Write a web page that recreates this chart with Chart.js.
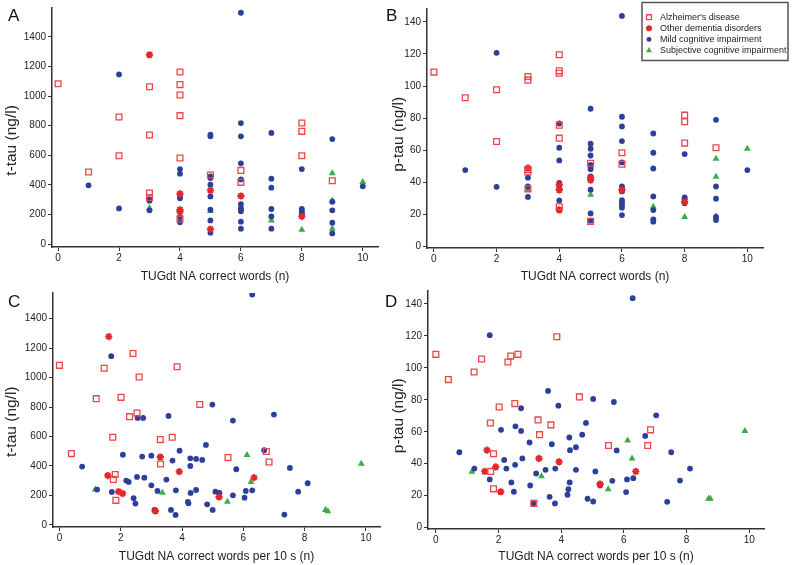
<!DOCTYPE html>
<html>
<head>
<meta charset="utf-8">
<script src="https://cdn.jsdelivr.net/npm/chart.js@4.4.0/dist/chart.umd.min.js"></script>
<style>
body { margin: 0; background: #fff; }
#wrap { position: relative; width: 793px; height: 565px; overflow: hidden; }
canvas { position: absolute; }
.lbl { position: absolute; font: 17px 'Liberation Sans', Arial, sans-serif; line-height: 1; color: #111; }
</style>
</head>
<body>
<div id="wrap">
  <canvas id="panelA" width="387" height="285" style="left:0;top:0"></canvas>
  <canvas id="panelB" width="406" height="285" style="left:387px;top:0"></canvas>
  <canvas id="panelC" width="387" height="282" style="left:0;top:283px"></canvas>
  <canvas id="panelD" width="406" height="282" style="left:387px;top:283px"></canvas>
  <div class="lbl" style="left:8px;top:7px">A</div>
  <div class="lbl" style="left:386px;top:7px">B</div>
  <div class="lbl" style="left:8px;top:293px">C</div>
  <div class="lbl" style="left:385px;top:293px">D</div>
</div>
<script>
const FONT = "'Liberation Sans', Arial, sans-serif";

const groups = ["Alzheimer's disease", 'Other dementia disorders', 'Mild cognitive impairment', 'Subjective cognitive impairment'];
const xTicks = [0, 2, 4, 6, 8, 10];
const tTauTicks = [0, 200, 400, 600, 800, 1000, 1200, 1400];
const pTauTicks = [0, 20, 40, 60, 80, 100, 120, 140];

// A: correct words (n) vs t-tau
const wordsTtauAD = [[0,1084],[1,487],[2,859],[2,597],[3,1064],[3,737],[3,345],[3,315],[4,1163],[4,1078],[4,1008],[4,868],[4,582],[4,169],[5,467],[6,498],[6,417],[8,818],[8,762],[8,597],[9,428]];
const wordsTtauOther = [[3,1280],[4,340],[4,232],[4,219],[5,363],[5,101],[6,325],[8,187]];
const wordsTtauMCI = [[1,397],[2,1147],[2,241],[3,302],[3,293],[3,228],[4,507],[4,476],[4,327],[4,309],[4,183],[4,147],
  [5,739],[5,728],[5,458],[5,446],[5,401],[5,322],[5,232],[5,160],[5,77],
  [6,1564],[6,818],[6,728],[6,546],[6,437],[6,270],[6,243],[6,232],[6,221],[6,151],[6,104],
  [7,751],[7,442],[7,381],[7,237],[7,187],[7,104],[8,507],[8,237],[8,223],[8,210],[8,198],
  [9,710],[9,286],[9,228],[9,144],[9,72],[10,390]];
const wordsTtauSCI = [[3,243],[5,223],[7,160],[8,97],[9,478],[9,295],[9,104],[10,419]];

// B: correct words (n) vs p-tau
const wordsPtauAD = [[0,108.7],[1,92.7],[2,97.7],[2,65.5],[3,106],[3,103.7],[3,48],[3,46.5],[3,36],[4,119.5],[4,109.5],[4,108],[4,75.7],[4,67.6],[4,24.9],[5,52],[5,15.8],[6,58.5],[6,51.4],[8,81.9],[8,77.8],[8,64.5],[9,61.6]];
const wordsPtauOther = [[3,49],[4,38.6],[4,35.3],[4,23],[5,43],[5,41.5],[6,35.3],[8,28]];
const wordsPtauMCI = [[1,47.7],[2,120.7],[2,37.3],[3,43],[3,37.5],[3,31],[4,76.7],[4,61.6],[4,53.7],[4,39.8],[4,36.5],[4,28.8],[4,22.6],
  [5,85.9],[5,64.1],[5,61],[5,56.8],[5,51],[5,49.6],[5,48.3],[5,43.8],[5,35.5],[5,20.7],[5,16.2],
  [6,143.7],[6,80.9],[6,74.9],[6,65.8],[6,52.5],[6,37.5],[6,36.3],[6,34.4],[6,29],[6,27.6],[6,25.9],[6,24.3],[6,19.7],
  [7,70.5],[7,58.5],[7,48.7],[7,31.3],[7,22.8],[7,17],[7,15.6],[8,57.7],[8,30.7],[8,29.7],[8,27],
  [9,79],[9,37.5],[9,29.9],[9,18.5],[9,16.6],[10,47.7]];
const wordsPtauSCI = [[3,35.5],[5,32.4],[7,24.9],[8,18.5],[9,54.8],[9,43.6],[9,18.9],[10,61]];

// C: correct words per 10 s vs t-tau
const rateTtauAD = [[0,1083],[0.39,484],[1.2,857],[1.46,1063],[1.82,342],[1.76,308],[1.74,595],[1.84,167],[2.01,866],[2.29,735],[2.4,1163],[2.53,760],[2.6,1004],[3.29,579],[3.3,414],[3.68,595],[3.84,1074],[4.58,817],[5.5,457],[6.75,498],[6.84,427]];
const rateTtauOther = [[1.61,1278],[1.58,335],[1.93,226],[2.06,213],[3.13,95],[3.29,461],[3.91,362],[5.21,190],[6.35,321]];
const rateTtauMCI = [[0.74,396],[1.23,240],[1.69,1145],[1.71,224],[2.07,477],[2.18,301],[2.26,292],[2.42,181],[2.48,145],[2.55,726],[2.73,726],[2.53,326],[2.7,464],[2.77,321],
  [3.0,470],[3.0,269],[3.1,102],[3.2,231],[3.49,308],[3.56,740],[3.64,102],[3.69,437],[3.79,68],[3.8,235],[3.92,504],
  [4.27,452],[4.27,400],[4.28,217],[4.19,156],[4.21,147],[4.46,448],[4.46,237],[4.66,441],[4.78,543],[4.82,140],[4.99,817],
  [5.0,102],[5.09,226],[5.22,217],[5.66,708],[5.66,201],[5.77,378],[6.04,185],[6.08,231],[6.29,235],[6.29,1563],[6.68,507],
  [7.0,749],[7.34,70],[7.52,387],[7.79,226],[8.1,283]];
const rateTtauSCI = [[1.17,240],[3.36,219],[5.48,158],[6.12,475],[6.25,292],[8.68,102],[8.76,93],[9.85,416]];

// D: correct words per 10 s vs p-tau
const ratePtauAD = [[0,108.4],[0.4,92.6],[1.22,97.4],[1.46,105.5],[1.74,65.5],[1.84,46.2],[1.75,35.2],[1.84,24.3],[2.02,75.5],[2.3,103.6],[2.39,107.3],[2.62,108.4],[2.52,77.6],[3.13,15.2],[3.26,67.4],[3.31,58.2],[3.67,64.3],[3.86,119.4],[4.58,81.8],[5.51,51.4],[6.76,51.4],[6.85,61.2]];
const ratePtauOther = [[1.63,48.5],[1.56,35.2],[1.91,38],[2.07,22.5],[3.29,43.3],[3.93,41.2],[5.24,27.3],[6.38,35.2]];
const ratePtauMCI = [[0.75,47.2],[1.23,37],[1.72,120.4],[1.72,30.2],[2.08,61.2],[2.18,42.4],[2.25,37],[2.54,63.4],[2.72,74.7],[2.72,60.5],[2.41,28.3],[2.49,22.5],[2.53,39.3],[2.76,43.3],
  [2.99,53.3],[3.01,26.4],[3.11,15.2],[3.2,33.9],[3.5,36.2],[3.58,85.5],[3.63,19.3],[3.7,52.2],[3.8,15.2],[3.81,37],[3.91,76.3],
  [4.2,20.6],[4.23,24.1],[4.27,28.3],[4.26,56.4],[4.28,48.5],[4.47,50.3],[4.47,36.2],[4.67,58.2],[4.79,65.5],[4.84,18.1],
  [5.02,80.5],[5.02,16.4],[5.09,35.2],[5.24,26.4],[5.63,29.3],[5.68,78.6],[5.77,48.3],[6.07,22.3],[6.1,30.2],[6.28,143.5],[6.3,31],[6.68,57.4],
  [7.03,70.3],[7.38,16.2],[7.51,47.2],[7.79,29.5],[8.11,37]];
const ratePtauSCI = [[1.15,35],[3.37,32.2],[5.5,24.1],[6.12,54.5],[6.26,43.3],[8.7,18.1],[8.76,18.1],[9.86,60.5]];

const styles = [
  { pointStyle: 'rect', pointRadius: 4.1, backgroundColor: 'rgba(255,255,255,0)', borderColor: '#ee4646', borderWidth: 1.3 },
  { pointStyle: 'star', pointRadius: 3.6, backgroundColor: '#e3262b', borderColor: '#e3262b', borderWidth: 1.9 },
  { pointStyle: 'circle', pointRadius: 2.9, backgroundColor: '#2c3f9b', borderColor: '#2c3f9b', borderWidth: 0 },
  { pointStyle: 'triangle', pointRadius: 4, backgroundColor: '#3aad47', borderColor: '#3aad47', borderWidth: 0 }
];

// legend box drawn inside panel B
const boxLegend = {
  id: 'boxLegend',
  afterDraw(chart, args, opts) {
    const ctx = chart.ctx;
    ctx.save();
    ctx.fillStyle = '#fff';
    ctx.fillRect(opts.x, opts.y, opts.w, opts.h);
    ctx.strokeStyle = '#555';
    ctx.lineWidth = 1.5;
    ctx.strokeRect(opts.x, opts.y, opts.w, opts.h);
    ctx.font = '9px ' + FONT;
    ctx.textBaseline = 'middle';
    chart.data.datasets.forEach((ds, i) => {
      const y = opts.y + 14.7 + i * 11.1;
      ctx.fillStyle = ds.backgroundColor;
      ctx.strokeStyle = ds.borderColor;
      ctx.lineWidth = ds.borderWidth;
      Chart.helpers.drawPoint(ctx, { pointStyle: ds.pointStyle, radius: ds.pointRadius * 0.85, borderWidth: ds.borderWidth, rotation: 0 }, opts.x + 7, y);
      ctx.fillStyle = '#222';
      ctx.fillText(ds.label, opts.x + 18, y);
    });
    ctx.restore();
  }
};

// y title centred on the labelled tick range, as in the original figure
const yTitle = {
  id: 'yTitle',
  afterDraw(chart, args, opts) {
    const s = chart.scales.y;
    const t = opts.ticks;
    const mid = s.getPixelForValue((t[0] + t[t.length - 1]) / 2);
    const ctx = chart.ctx;
    ctx.save();
    ctx.translate(opts.x, mid);
    ctx.rotate(-Math.PI / 2);
    ctx.font = '15.5px ' + FONT;
    ctx.fillStyle = '#222';
    ctx.textAlign = 'center';
    ctx.textBaseline = 'middle';
    ctx.fillText(opts.text, 0, 0);
    ctx.restore();
  }
};

function axis(ticks, min, max, title, dir, size) {
  return {
    type: 'linear',
    min: min,
    max: max,
    afterBuildTicks: s => { s.ticks = ticks.map(v => ({ value: v })); },
    afterFit: s => { if (dir === 'x') s.height = size; else s.width = size; },
    border: { display: true, color: '#333', width: 1.5 },
    grid: { drawOnChartArea: false, drawTicks: true, tickLength: 4, color: '#333', lineWidth: 1 },
    ticks: { color: '#222', font: { family: FONT, size: 10 }, padding: dir === 'x' ? 1 : 2, maxRotation: 0, autoSkip: false, callback: v => String(v) },
    title: { display: dir === 'x', text: title, color: '#222', font: { family: FONT, size: 12 }, padding: { top: 0, bottom: 1.5 } }
  };
}

function panel(id, sets, xTitle, yTitleText, yTicks, xr, yr, box, legend) {
  new Chart(document.getElementById(id), {
    type: 'scatter',
    data: {
      datasets: sets.map((pts, i) => Object.assign({ label: groups[i], data: pts.map(p => ({ x: p[0], y: p[1] })) }, styles[i]))
    },
    options: {
      responsive: false,
      animation: false,
      events: [],
      layout: { padding: { left: 0, top: box.top, right: box.right, bottom: 0 } },
      plugins: {
        legend: { display: false },
        tooltip: { enabled: false },
        yTitle: { text: yTitleText, ticks: yTicks, x: 11.5 },
        boxLegend: legend || false
      },
      scales: {
        x: axis(xTicks, xr[0], xr[1], xTitle, 'x', box.xh),
        y: axis(yTicks, yr[0], yr[1], yTitleText, 'y', box.yw)
      }
    },
    plugins: legend ? [yTitle, boxLegend] : [yTitle]
  });
}

panel('panelA', [wordsTtauAD, wordsTtauOther, wordsTtauMCI, wordsTtauSCI],
  'TUGdt NA correct words (n)', 't-tau (ng/l)', tTauTicks, [-0.2, 10.5], [-20, 1596],
  { top: 8, right: 9, xh: 38, yw: 52 });
panel('panelB', [wordsPtauAD, wordsPtauOther, wordsPtauMCI, wordsPtauSCI],
  'TUGdt NA correct words (n)', 'p-tau (ng/l)', pTauTicks, [-0.22, 10.5], [-0.8, 148],
  { top: 9, right: 30, xh: 37, yw: 40 }, { x: 255, y: 2.5, w: 146, h: 58 });
panel('panelC', [rateTtauAD, rateTtauOther, rateTtauMCI, rateTtauSCI],
  'TUGdt NA correct words per 10 s (n)', 't-tau (ng/l)', tTauTicks, [-0.21, 10.46], [-14, 1574],
  { top: 10, right: 7, xh: 38, yw: 53 });
panel('panelD', [ratePtauAD, ratePtauOther, ratePtauMCI, ratePtauSCI],
  'TUGdt NA correct words per 10 s (n)', 'p-tau (ng/l)', pTauTicks, [-0.25, 10.47], [-0.8, 148],
  { top: 8, right: 29, xh: 36, yw: 41 });
</script>
</body>
</html>
